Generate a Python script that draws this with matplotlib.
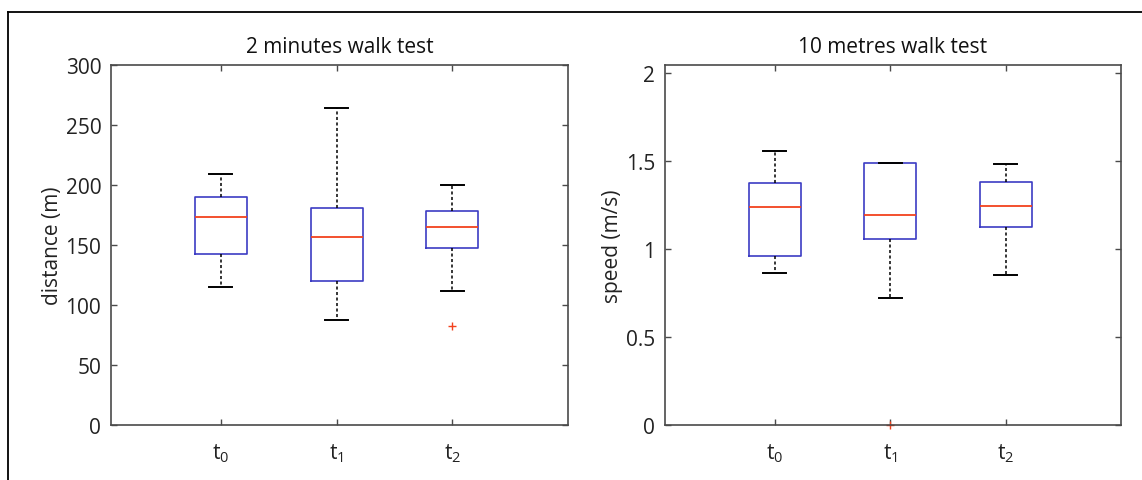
import matplotlib
matplotlib.use('Agg')
import matplotlib.pyplot as plt
from matplotlib.lines import Line2D

plt.rcParams['font.family'] = ['Open Sans', 'DejaVu Sans']

# box statistics: whislo, q1, med, q3, whishi, outliers
groups = ['t$_{\\mathregular{0}}$', 't$_{\\mathregular{1}}$', 't$_{\\mathregular{2}}$']

dist_whislo = [114.6, 87.1, 111.9]
dist_q1 = [142.4, 119.9, 147.9]
dist_med = [173.7, 156.8, 164.9]
dist_q3 = [190.4, 181.0, 178.7]
dist_whishi = [209.0, 264.2, 200.1]
dist_fliers = [[], [], [82.7]]

speed_whislo = [0.865, 0.723, 0.852]
speed_q1 = [0.960, 1.055, 1.123]
speed_med = [1.241, 1.192, 1.243]
speed_q3 = [1.374, 1.488, 1.378]
speed_whishi = [1.556, 1.491, 1.484]
speed_fliers = [[], [0.0], []]

BOX_COL = '#3c3cc4'
MED_COL = '#f2421e'
SPINE_COL = '#4a4a4a'
TXT_COL = '#222222'
FS = 15


def make_stats(lo, q1, med, q3, hi, fl):
    return [dict(whislo=a, q1=b, med=c, q3=d, whishi=e, fliers=f)
            for a, b, c, d, e, f in zip(lo, q1, med, q3, hi, fl)]


def draw_panel(ax, stats, title, ylabel, ylim, yticks, yticklabels):
    ax.bxp(stats, positions=[1, 2, 3], widths=0.45, showfliers=True,
           boxprops=dict(color=BOX_COL, linewidth=1.2),
           medianprops=dict(color=MED_COL, linewidth=1.3),
           whiskerprops=dict(color='black', linewidth=1.1, linestyle=(0, (2, 1.6))),
           capprops=dict(color='black', linewidth=1.4),
           capwidths=0.2,
           flierprops=dict(marker='+', markeredgecolor=MED_COL, markersize=6,
                           markeredgewidth=1.0, linestyle='none'))
    ax.set_xlim(0.05, 4.0)
    ax.set_ylim(*ylim)
    ax.set_xticks([1, 2, 3])
    ax.set_xticklabels(groups)
    ax.set_yticks(yticks)
    ax.set_yticklabels(yticklabels)
    ax.tick_params(direction='in', length=4, width=1, color=SPINE_COL,
                   top=True, right=True, labelsize=FS, labelcolor=TXT_COL, pad=7)
    ax.tick_params(axis='x', pad=12)
    for sp in ax.spines.values():
        sp.set_color(SPINE_COL)
        sp.set_linewidth(1.2)
    ax.set_title(title, fontsize=FS, color='#111111', pad=9)
    ax.set_ylabel(ylabel, fontsize=FS, color=TXT_COL, labelpad=2)
    for art in ax.lines:
        art.set_clip_on(False)


fig = plt.figure(figsize=(11.42, 4.81), dpi=100)

ax1 = fig.add_axes([0.0972, 0.1143, 0.4002, 0.7485])
draw_panel(ax1, make_stats(dist_whislo, dist_q1, dist_med, dist_q3, dist_whishi, dist_fliers),
           '2 minutes walk test', 'distance (m)', (0, 300),
           [0, 50, 100, 150, 200, 250, 300], ['0', '50', '100', '150', '200', '250', '300'])

ax2 = fig.add_axes([0.5823, 0.1143, 0.3993, 0.7485])
draw_panel(ax2, make_stats(speed_whislo, speed_q1, speed_med, speed_q3, speed_whishi, speed_fliers),
           '10 metres walk test', 'speed (m/s)', (0, 2.045),
           [0, 0.5, 1, 1.5, 2], ['0', '0.5', '1', '1.5', '2'])

# outer frame (top and left edges only visible)
fx = 7.5 / 1142
fy = 1 - 12.5 / 481
fig.add_artist(Line2D([fx, 1.0], [fy, fy], color='black', linewidth=1.3,
                      transform=fig.transFigure))
fig.add_artist(Line2D([fx, fx], [0, fy], color='black', linewidth=1.3,
                      transform=fig.transFigure))

fig.savefig('out.png', dpi=100)
